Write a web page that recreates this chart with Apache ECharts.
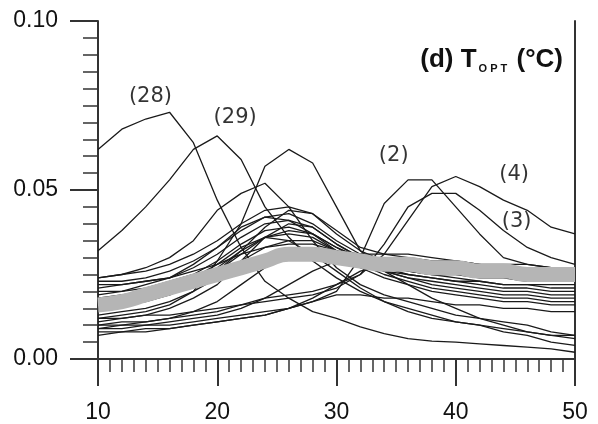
<!DOCTYPE html>
<html>
<head>
<meta charset="utf-8">
<script src="https://cdn.jsdelivr.net/npm/echarts@6/dist/echarts.min.js"></script>
<style>
  html, body { margin: 0; padding: 0; background: #fff; }
  #chart { width: 598px; height: 424px; }
</style>
</head>
<body>
<div id="chart"></div>
<script>
// temperature grid (°C)
const temps = [10, 12, 14, 16, 18, 20, 22, 24, 26, 28, 30, 32, 34, 36, 38, 40, 42, 44, 46, 48, 50];

// individual response curves
const curve28 = [0.062, 0.068, 0.071, 0.073, 0.064, 0.047, 0.033, 0.023, 0.018, 0.014, 0.012, 0.0095, 0.0075, 0.006, 0.0053, 0.005, 0.0045, 0.004, 0.0035, 0.003, 0.002];
const curve29 = [0.032, 0.038, 0.045, 0.053, 0.062, 0.066, 0.059, 0.045, 0.036, 0.029, 0.024, 0.020, 0.017, 0.015, 0.013, 0.011, 0.010, 0.008, 0.007, 0.005, 0.004];
const curvePeak26 = [0.012, 0.013, 0.014, 0.016, 0.020, 0.029, 0.040, 0.057, 0.062, 0.058, 0.045, 0.032, 0.026, 0.022, 0.018, 0.015, 0.012, 0.010, 0.008, 0.007, 0.006];
const curvePeak23 = [0.024, 0.025, 0.027, 0.030, 0.035, 0.044, 0.049, 0.052, 0.045, 0.035, 0.027, 0.022, 0.019, 0.017, 0.015, 0.013, 0.012, 0.011, 0.010, 0.008, 0.007];
const curve2 = [0.009, 0.009, 0.010, 0.010, 0.011, 0.012, 0.013, 0.014, 0.015, 0.017, 0.020, 0.030, 0.046, 0.053, 0.053, 0.045, 0.037, 0.030, 0.028, 0.027, 0.027];
const curve3 = [0.012, 0.012, 0.013, 0.013, 0.014, 0.015, 0.016, 0.017, 0.018, 0.019, 0.021, 0.025, 0.034, 0.045, 0.049, 0.049, 0.044, 0.038, 0.033, 0.030, 0.028];
const curve4 = [0.010, 0.011, 0.011, 0.012, 0.013, 0.014, 0.016, 0.018, 0.019, 0.020, 0.022, 0.025, 0.031, 0.041, 0.051, 0.054, 0.051, 0.047, 0.044, 0.039, 0.037];
const bundle1 = [0.024, 0.025, 0.026, 0.028, 0.031, 0.035, 0.040, 0.044, 0.045, 0.043, 0.038, 0.033, 0.031, 0.030, 0.029, 0.029, 0.028, 0.028, 0.028, 0.027, 0.027];
const bundle2 = [0.023, 0.023, 0.024, 0.026, 0.029, 0.033, 0.038, 0.042, 0.043, 0.040, 0.035, 0.031, 0.028, 0.026, 0.025, 0.024, 0.023, 0.022, 0.022, 0.021, 0.021];
const bundle3 = [0.021, 0.022, 0.023, 0.024, 0.027, 0.031, 0.036, 0.040, 0.041, 0.039, 0.034, 0.030, 0.027, 0.025, 0.024, 0.023, 0.022, 0.021, 0.021, 0.020, 0.020];
const bundle4 = [0.020, 0.020, 0.021, 0.023, 0.025, 0.029, 0.034, 0.038, 0.039, 0.037, 0.033, 0.029, 0.026, 0.024, 0.023, 0.022, 0.021, 0.020, 0.020, 0.019, 0.019];
const bundle5 = [0.018, 0.019, 0.020, 0.021, 0.023, 0.027, 0.032, 0.036, 0.037, 0.036, 0.032, 0.029, 0.026, 0.024, 0.022, 0.021, 0.020, 0.019, 0.019, 0.018, 0.018];
const bundle6 = [0.013, 0.014, 0.015, 0.017, 0.020, 0.024, 0.029, 0.033, 0.035, 0.035, 0.032, 0.028, 0.025, 0.023, 0.021, 0.020, 0.019, 0.018, 0.018, 0.017, 0.017];
const bundle7 = [0.022, 0.022, 0.023, 0.024, 0.026, 0.028, 0.031, 0.033, 0.034, 0.034, 0.032, 0.031, 0.031, 0.031, 0.030, 0.029, 0.028, 0.027, 0.027, 0.026, 0.026];
const bundle8 = [0.010, 0.010, 0.011, 0.012, 0.014, 0.017, 0.022, 0.027, 0.031, 0.032, 0.030, 0.027, 0.024, 0.022, 0.020, 0.019, 0.018, 0.017, 0.017, 0.016, 0.016];
const bundle9 = [0.009, 0.010, 0.010, 0.011, 0.012, 0.013, 0.015, 0.018, 0.022, 0.026, 0.029, 0.030, 0.029, 0.028, 0.027, 0.027, 0.026, 0.026, 0.025, 0.025, 0.025];
const bundle10 = [0.008, 0.008, 0.009, 0.009, 0.010, 0.011, 0.012, 0.013, 0.015, 0.018, 0.022, 0.026, 0.028, 0.028, 0.028, 0.027, 0.027, 0.026, 0.026, 0.026, 0.026];
const bundle11 = [0.007, 0.008, 0.008, 0.009, 0.010, 0.011, 0.012, 0.013, 0.015, 0.017, 0.019, 0.019, 0.018, 0.018, 0.017, 0.016, 0.016, 0.015, 0.015, 0.014, 0.014];
const bundle12 = [0.019, 0.020, 0.022, 0.024, 0.028, 0.033, 0.039, 0.042, 0.041, 0.037, 0.032, 0.028, 0.026, 0.025, 0.024, 0.023, 0.023, 0.022, 0.022, 0.022, 0.022];
const bundle13 = [0.016, 0.017, 0.018, 0.019, 0.022, 0.026, 0.031, 0.036, 0.038, 0.037, 0.033, 0.030, 0.028, 0.026, 0.025, 0.025, 0.024, 0.024, 0.023, 0.023, 0.023];
const bundle14 = [0.017, 0.018, 0.019, 0.021, 0.024, 0.028, 0.033, 0.036, 0.035, 0.031, 0.026, 0.021, 0.017, 0.014, 0.012, 0.011, 0.010, 0.009, 0.008, 0.007, 0.007];
const bundle15 = [0.015, 0.016, 0.017, 0.019, 0.022, 0.026, 0.032, 0.039, 0.044, 0.043, 0.037, 0.032, 0.029, 0.027, 0.026, 0.026, 0.025, 0.025, 0.025, 0.025, 0.025];
const bundle16 = [0.011, 0.012, 0.013, 0.015, 0.018, 0.022, 0.029, 0.036, 0.040, 0.039, 0.034, 0.030, 0.028, 0.027, 0.027, 0.026, 0.026, 0.026, 0.026, 0.026, 0.026];

// mean curve (thick grey)
const meanCurve = [0.016, 0.017, 0.019, 0.021, 0.023, 0.025, 0.027, 0.029, 0.031, 0.031, 0.030, 0.029, 0.028, 0.028, 0.027, 0.027, 0.026, 0.026, 0.025, 0.025, 0.025];

// curve labels
const noteText = ['(28)', '(29)', '(2)', '(4)', '(3)'];
const noteX = [14.4, 21.5, 34.8, 44.9, 45.1];
const noteY = [0.0776, 0.0714, 0.0602, 0.0546, 0.0407];

const xTicks = [10, 20, 30, 40, 50];
const yTicks = [0, 0.05, 0.10];

const curves = [curve28, curve29, curvePeak26, curvePeak23, curve2, curve3, curve4,
  bundle1, bundle2, bundle3, bundle4, bundle5, bundle6, bundle7, bundle8,
  bundle9, bundle10, bundle11, bundle12, bundle13, bundle14, bundle15, bundle16];

const font = "'Liberation Sans', Arial, sans-serif";
const axisColor = '#333';

const series = curves.map(c => ({
  type: 'line',
  data: temps.map((t, i) => [t, c[i]]),
  symbol: 'none',
  lineStyle: { color: '#1a1a1a', width: 1.3 },
  z: 2
}));

series.push({
  type: 'line',
  data: temps.map((t, i) => [t, meanCurve[i]]),
  symbol: 'none',
  smooth: true,
  lineStyle: { color: '#b5b5b5', width: 15, cap: 'butt' },
  z: 3
});

series.push({
  type: 'scatter',
  symbolSize: 0,
  data: noteText.map((n, i) => ({ value: [noteX[i], noteY[i]], name: n })),
  label: {
    show: true,
    position: 'inside',
    formatter: p => p.name,
    fontFamily: "'DejaVu Sans', sans-serif",
    fontSize: 21,
    color: '#000',
    textBorderWidth: 0
  },
  z: 4
});

const chart = echarts.init(document.getElementById('chart'));
chart.setOption({
  animation: false,
  backgroundColor: '#fff',
  title: {
    text: '{b|(d) T}{s|O P T}{b| (°C)}',
    right: 30,
    top: 40,
    textStyle: {
      rich: {
        b: { fontFamily: font, fontSize: 26, fontWeight: 'bold', color: '#111', lineHeight: 30 },
        s: { fontFamily: font, fontSize: 11, fontWeight: 'bold', color: '#111', lineHeight: 30, padding: [18, 2, 0, 2] }
      }
    }
  },
  grid: { left: 98, right: 23, top: 21, bottom: 64 },
  xAxis: [
    {
      type: 'value',
      min: xTicks[0],
      max: xTicks[xTicks.length - 1],
      interval: 10,
      axisLine: { lineStyle: { color: axisColor, width: 2 } },
      axisTick: { length: 27, lineStyle: { color: axisColor, width: 2 } },
      minorTick: { show: true, splitNumber: 10, length: 13, lineStyle: { color: axisColor, width: 1.5 } },
      splitLine: { show: false },
      axisLabel: { fontFamily: font, fontSize: 23, color: '#111', margin: 42 }
    },
    {
      type: 'value',
      position: 'top',
      min: xTicks[0],
      max: xTicks[xTicks.length - 1],
      axisLine: { show: true, lineStyle: { color: axisColor, width: 2 } },
      axisTick: { show: false },
      axisLabel: { show: false },
      splitLine: { show: false }
    }
  ],
  yAxis: [
    {
      type: 'value',
      min: yTicks[0],
      max: yTicks[yTicks.length - 1],
      interval: 0.05,
      axisLine: { show: true, lineStyle: { color: axisColor, width: 2 } },
      axisTick: { show: true, length: 28, lineStyle: { color: axisColor, width: 2 } },
      minorTick: { show: true, splitNumber: 10, length: 15, lineStyle: { color: axisColor, width: 1.5 } },
      splitLine: { show: false },
      axisLabel: { fontFamily: font, fontSize: 23, color: '#111', margin: 40, formatter: v => v.toFixed(2) }
    },
    {
      type: 'value',
      position: 'right',
      min: yTicks[0],
      max: yTicks[yTicks.length - 1],
      axisLine: { show: true, lineStyle: { color: axisColor, width: 2 } },
      axisTick: { show: false },
      axisLabel: { show: false },
      splitLine: { show: false }
    }
  ],
  series: series
});
</script>
</body>
</html>
